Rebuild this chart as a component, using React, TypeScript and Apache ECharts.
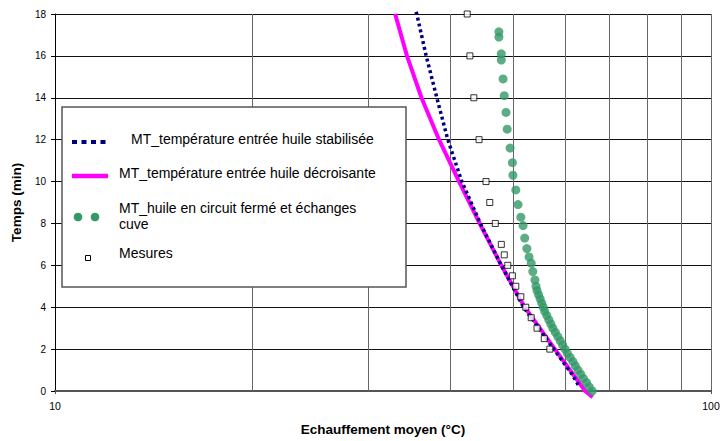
import React, { useEffect, useRef } from "react";
import * as echarts from "echarts";

// ---- data ----
const xMin = 10;
const xMax = 100;
const yMin = 0;
const yMax = 18;
const yStep = 2;
const verticalGrid = [20, 30, 40, 50, 60, 70, 80, 90];

const seriesNames = [
  "MT_température entrée huile stabilisée",
  "MT_température entrée huile décroisante",
  "MT_huile en circuit fermé et échanges cuve",
  "Mesures",
];

const stabX = [35.5, 35.6, 36.8, 38.2, 39.7, 41.7, 44.5, 47.9, 51.8, 57.6, 61.4, 63.0];
const stabY = [18.1, 18, 16, 14, 12, 10, 8, 6, 4, 2, 0.8, 0.2];

const decrX = [33.0, 34.4, 36.2, 38.5, 41.3, 44.4, 47.9, 52.0, 57.8, 64.3, 66.0];
const decrY = [18, 16, 14, 12, 10, 8, 6, 4, 2, 0, -0.3];

const cuveX = [
  65.9, 65.2, 64.6, 63.9, 63.3, 62.7, 62.1, 61.6, 61.0, 60.4, 59.9, 59.4, 58.9, 58.4,
  57.9, 57.4, 57.0, 56.6, 56.2, 55.8, 55.5, 55.2, 54.9, 54.6, 54.3, 54.1, 53.9, 53.5,
  53.2, 52.8, 52.4, 52.0, 51.7, 51.3, 50.8, 50.4, 49.9, 49.8, 49.4, 48.9, 48.7, 48.4,
  48.2, 47.9, 47.9, 47.5, 47.5,
];
const cuveY = [
  0, 0.2, 0.4, 0.6, 0.8, 1.0, 1.2, 1.4, 1.6, 1.8, 2.0, 2.2, 2.4, 2.6,
  2.8, 3.0, 3.2, 3.4, 3.6, 3.8, 4.0, 4.2, 4.4, 4.6, 4.8, 5.0, 5.3, 5.7,
  6.1, 6.4, 6.8, 7.3, 7.9, 8.3, 8.9, 9.6, 10.3, 10.9, 11.6, 12.5, 13.3, 14.1,
  14.9, 15.8, 16.1, 16.9, 17.15,
];

const mesX = [42.5, 42.9, 43.5, 44.3, 45.4, 46.0, 46.9, 47.9, 48.4, 49.0, 49.8, 50.4, 51.3, 52.2, 53.2, 54.3, 55.7, 56.8];
const mesY = [18, 16, 14, 12, 10, 9, 8, 7, 6.5, 6, 5.5, 5, 4.5, 4, 3.5, 3, 2.5, 2];

const pairs = (xs: number[], ys: number[]) => xs.map((x, i) => [x, ys[i]]);

const FONT = "'Liberation Sans', Arial, sans-serif";
const NAVY = "#000080";
const PINK = "#FF00FF";
const GREEN = "#339966";

export default function App() {
  const ref = useRef<HTMLDivElement>(null);

  useEffect(() => {
    if (!ref.current) return;
    const chart = echarts.init(ref.current, undefined, { renderer: "svg" });

    const option: any = {
      animation: false,
      backgroundColor: "#fff",
      textStyle: { fontFamily: FONT },
      grid: { left: 55, top: 14, right: 16, bottom: 44, containLabel: false },
      xAxis: {
        type: "log",
        logBase: 10,
        min: xMin,
        max: xMax,
        name: "Echauffement moyen (°C)",
        nameLocation: "middle",
        nameGap: 31,
        nameTextStyle: { fontFamily: FONT, fontSize: 13.5, fontWeight: "bold", color: "#000" },
        axisLine: { show: true, onZero: false, lineStyle: { color: "#555", width: 2 } },
        axisTick: { show: true, length: 3, lineStyle: { color: "#555" } },
        axisLabel: { fontFamily: FONT, fontSize: 10.5, color: "#000", margin: 9 },
        splitLine: { show: true, lineStyle: { color: "#666", width: 1 } },
        minorTick: { show: false },
      },
      yAxis: {
        type: "value",
        min: yMin,
        max: yMax,
        interval: yStep,
        name: "Temps (min)",
        nameLocation: "middle",
        nameGap: 30,
        nameTextStyle: { fontFamily: FONT, fontSize: 13.5, fontWeight: "bold", color: "#000" },
        axisLine: { show: true, lineStyle: { color: "#000", width: 1 } },
        axisTick: { show: true, length: 4, lineStyle: { color: "#000" } },
        axisLabel: { fontFamily: FONT, fontSize: 10, color: "#000", margin: 9 },
        splitLine: { show: true, lineStyle: { color: "#111", width: 1 } },
      },
      series: [
        {
          name: seriesNames[3],
          type: "scatter",
          data: pairs(mesX, mesY),
          symbol: "rect",
          symbolSize: 6,
          itemStyle: { color: "#fff", borderColor: "#000", borderWidth: 1 },
          z: 5,
          markLine: {
            silent: true,
            symbol: "none",
            label: { show: false },
            lineStyle: { color: "#666", width: 1, type: "solid" },
            data: verticalGrid.map((v) => ({ xAxis: v })),
            z: 1,
          },
        },
        {
          name: seriesNames[2],
          type: "scatter",
          data: pairs(cuveX, cuveY),
          symbol: "circle",
          symbolSize: 9,
          itemStyle: { color: GREEN },
          z: 4,
        },
        {
          name: seriesNames[1],
          type: "line",
          data: pairs(decrX, decrY),
          showSymbol: false,
          symbol: "none",
          clip: false,
          lineStyle: { color: PINK, width: 4, join: "round" },
          z: 3,
        },
        {
          name: seriesNames[0],
          type: "line",
          data: pairs(stabX, stabY),
          showSymbol: false,
          symbol: "none",
          clip: false,
          lineStyle: { color: NAVY, width: 3.5, type: [3, 3], cap: "butt" },
          z: 3,
        },
      ],
      graphic: [
        {
          type: "group",
          z: 100,
          children: [
            {
              type: "rect",
              shape: { x: 62, y: 107, width: 344, height: 180 },
              style: { fill: "#fff", stroke: "#555", lineWidth: 1.5 },
              z: 100,
            },
            {
              type: "line",
              shape: { x1: 72, y1: 142, x2: 108, y2: 142 },
              style: { stroke: NAVY, lineWidth: 4, lineDash: [5, 4.5] },
              z: 101,
            },
            {
              type: "text",
              x: 131,
              y: 139,
              style: { text: seriesNames[0], font: `14px ${FONT}`, fill: "#000", textVerticalAlign: "middle" },
              z: 101,
            },
            {
              type: "line",
              shape: { x1: 72, y1: 176, x2: 108, y2: 176 },
              style: { stroke: PINK, lineWidth: 4.5 },
              z: 101,
            },
            {
              type: "text",
              x: 119,
              y: 173,
              style: { text: seriesNames[1], font: `14px ${FONT}`, fill: "#000", textVerticalAlign: "middle" },
              z: 101,
            },
            { type: "circle", shape: { cx: 78, cy: 217, r: 4.3 }, style: { fill: GREEN }, z: 101 },
            { type: "circle", shape: { cx: 95, cy: 217, r: 4.3 }, style: { fill: GREEN }, z: 101 },
            {
              type: "text",
              x: 119,
              y: 208,
              style: { text: "MT_huile en circuit fermé et échanges", font: `14px ${FONT}`, fill: "#000", textVerticalAlign: "middle" },
              z: 101,
            },
            {
              type: "text",
              x: 119,
              y: 224,
              style: { text: "cuve", font: `14px ${FONT}`, fill: "#000", textVerticalAlign: "middle" },
              z: 101,
            },
            {
              type: "rect",
              shape: { x: 85.5, y: 255.5, width: 5, height: 5 },
              style: { fill: "#fff", stroke: "#000", lineWidth: 1 },
              z: 101,
            },
            {
              type: "text",
              x: 119,
              y: 253,
              style: { text: seriesNames[3], font: `14px ${FONT}`, fill: "#000", textVerticalAlign: "middle" },
              z: 101,
            },
          ],
        },
      ],
    };

    chart.setOption(option);
    return () => chart.dispose();
  }, []);

  return (
    <div
      ref={ref}
      style={{ position: "absolute", left: 0, top: 0, width: 727, height: 441 }}
    />
  );
}
